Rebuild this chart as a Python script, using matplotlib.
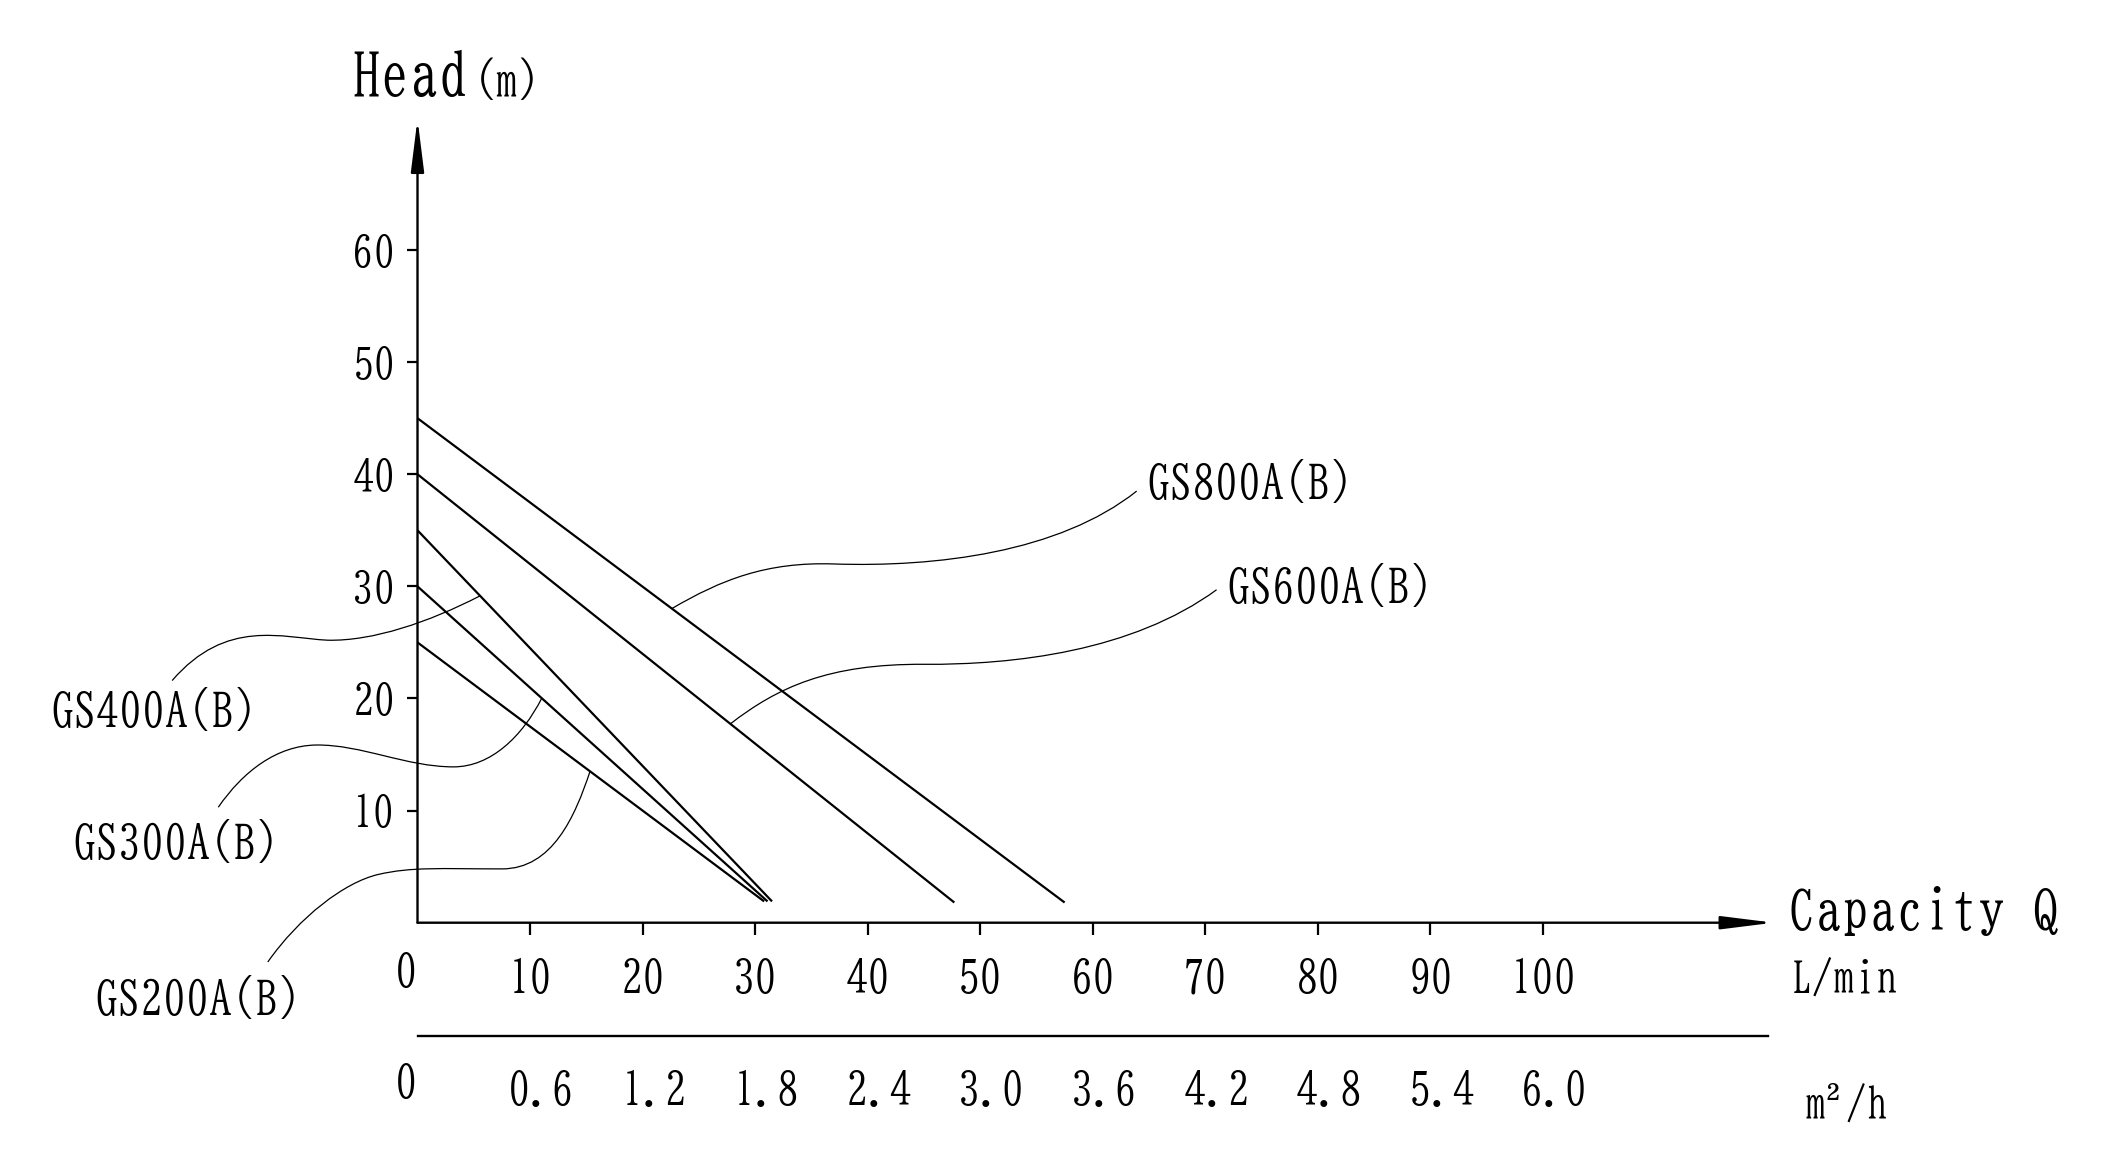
import numpy as np
import matplotlib
matplotlib.use("Agg")
import matplotlib.pyplot as plt
from matplotlib.path import Path
from matplotlib.patches import PathPatch

plt.rcParams['font.family'] = ['BIZ UDMincho', 'DejaVu Serif']

# pump curves: flow in L/min, head in m (straight lines)
models = ['GS200A(B)', 'GS300A(B)', 'GS400A(B)', 'GS600A(B)', 'GS800A(B)']
head_at_zero = [25, 30, 35, 40, 45]
flow_max = [30.8, 31.1, 31.5, 47.7, 57.5]
head_at_max = [1.9, 1.9, 1.9, 1.8, 1.8]

flow_ticks = [10, 20, 30, 40, 50, 60, 70, 80, 90, 100]
head_ticks = [10, 20, 30, 40, 50, 60]
m3h_labels = ['0.6', '1.2', '1.8', '2.4', '3.0', '3.6', '4.2', '4.8', '5.4', '6.0']

# leader curves: where they touch the pump line, bezier pieces after that, label spot
leaders = {
    'GS200A(B)': dict(q=15.33, text=(-28.7, -8.2),
                      segs=[((14.0, 9.5), (12.0, 4.8), (7.5, 4.8)),
                            ((2.0, 4.8), (-0.5, 5.0), (-3.5, 4.3)),
                            ((-6.5, 3.6), (-10.5, 0.5), (-13.3, -3.5))]),
    'GS300A(B)': dict(q=11.04, text=(-30.7, 5.7),
                      segs=[((9.3, 16.6), (6.5, 13.9), (3.2, 13.9)),
                            ((-1.0, 13.9), (-5.0, 15.9), (-9.0, 15.85)),
                            ((-12.5, 15.8), (-15.5, 13.5), (-17.7, 10.3))]),
    'GS400A(B)': dict(q=5.56, text=(-32.6, 17.5),
                      segs=[((1.0, 26.8), (-4.0, 25.1), (-8.0, 25.2)),
                            ((-12.0, 25.4), (-17.0, 27.2), (-21.8, 21.6))]),
    'GS600A(B)': dict(q=27.8, text=(71.9, 28.5),
                      segs=[((32.0, 21.0), (36.5, 23.1), (45.0, 23.05)),
                            ((53.0, 23.0), (63.5, 24.2), (71.0, 29.7))]),
    'GS800A(B)': dict(q=22.6, text=(64.8, 37.8),
                      segs=[((27.0, 30.6), (31.0, 32.2), (37.0, 32.0)),
                            ((46.0, 31.7), (57.0, 33.0), (63.9, 38.5))]),
}

fig = plt.figure(figsize=(21.19, 11.72), dpi=100)
ax = fig.add_axes([0.19703, 0.21271, 0.64, 0.68584])
ax.set_xlim(0, 120.5)
ax.set_ylim(0, 71.7)
for s in ax.spines.values():
    s.set_visible(False)

# axes drawn as arrows
arrow = dict(arrowstyle='-|>,head_length=32,head_width=4', mutation_scale=1,
             lw=1.7, color='black', shrinkA=0, shrinkB=0)
ax.annotate('', xy=(1, 0), xytext=(0, 0), xycoords='axes fraction', arrowprops=arrow)
ax.annotate('', xy=(0, 1), xytext=(0, 0), xycoords='axes fraction', arrowprops=arrow)

ax.set_yticks(head_ticks, labels=[str(v) for v in head_ticks])
ax.set_xticks(flow_ticks)
ax.tick_params(axis='y', length=7.9, width=1.6, pad=8, labelsize=31)
ax.tick_params(axis='x', length=8.6, width=1.6, labelbottom=False)

# pump lines
for m, h0, qm, hm in zip(models, head_at_zero, flow_max, head_at_max):
    ax.plot([0, qm], [h0, hm], color='black', lw=1.6, solid_capstyle='butt')

# leader curves and model labels
for m, h0, qm, hm in zip(models, head_at_zero, flow_max, head_at_max):
    ld = leaders[m]
    start = (ld['q'], np.interp(ld['q'], [0, qm], [h0, hm]))
    verts = [start]
    codes = [Path.MOVETO]
    for c1, c2, end in ld['segs']:
        verts += [c1, c2, end]
        codes += [Path.CURVE4] * 3
    ax.add_patch(PathPatch(Path(verts, codes), fill=False, lw=0.9,
                           edgecolor='black', clip_on=False))
    ax.text(*ld['text'], m, fontsize=33, ha='left', va='baseline')

# flow scale labels (L/min) and m2/h row
ax.text(-1.0, -5.7, '0', fontsize=32, ha='center', va='baseline')
for q in flow_ticks:
    ax.text(q, -6.27, str(q), fontsize=32, ha='center', va='baseline')
ax.axhline(-10.15, xmin=0, xmax=120 / 120.5, color='black', lw=1.7, clip_on=False)
ax.text(-1.0, -15.6, '0', fontsize=32, ha='center', va='baseline')
for q, lab in zip(flow_ticks, m3h_labels):
    ax.text(q + 1.0, -16.27, lab, fontsize=32, ha='center', va='baseline')

ax.text(-5.85, 73.7, 'Head', fontsize=42, ha='left', va='baseline')
ax.text(5.0, 73.7, '(m)', fontsize=32, ha='left', va='baseline')
ax.text(121.8, -0.63, 'Capacity Q', fontsize=39, ha='left', va='baseline')
ax.text(122.0, -6.27, 'L/min', fontsize=31, ha='left', va='baseline')
ax.text(123.2, -17.5, 'm²/h', fontsize=30, ha='left', va='baseline')

fig.savefig('out.png', dpi=100, facecolor='white')
